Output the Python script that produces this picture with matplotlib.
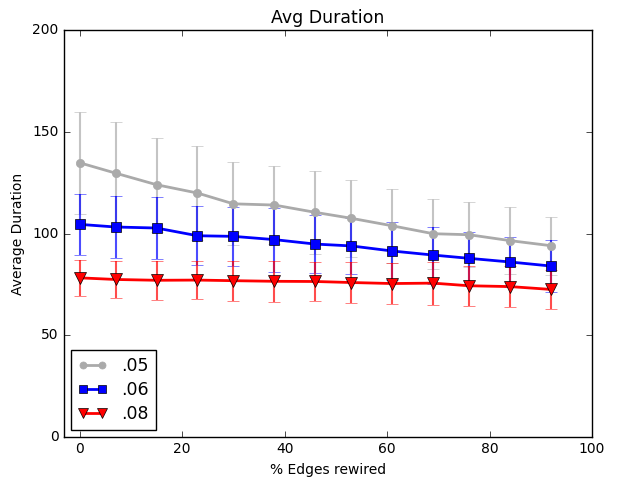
import matplotlib
matplotlib.use('Agg')
import matplotlib.pyplot as plt

plt.style.use('classic')
plt.rcParams['font.size'] = 10

x = [0, 7, 15, 23, 30, 38, 46, 53, 61, 69, 76, 84, 92]

y05 = [134.8, 129.7, 124.0, 119.9, 114.6, 114.0, 110.4, 107.5, 103.8, 99.9, 99.4, 96.5, 94.0]
e05 = [25.1, 25.3, 23.1, 23.2, 20.4, 19.0, 20.5, 19.0, 18.2, 17.2, 15.9, 16.5, 14.3]

y06 = [104.5, 103.2, 102.7, 98.9, 98.6, 97.0, 94.8, 93.9, 91.4, 89.4, 87.8, 86.0, 84.0]
e06 = [15.1, 15.4, 15.1, 14.6, 14.6, 15.7, 14.1, 13.9, 14.1, 14.0, 12.9, 12.4, 12.7]

y08 = [78.2, 77.4, 77.0, 77.1, 76.8, 76.5, 76.4, 75.9, 75.4, 75.6, 74.3, 73.9, 72.5]
e08 = [8.9, 8.9, 9.5, 9.5, 9.8, 10.2, 9.4, 9.9, 10.0, 10.6, 9.9, 9.9, 9.6]

fig = plt.figure(figsize=(6.18, 4.79), dpi=100)
ax = fig.add_subplot(111)
fig.subplots_adjust(left=0.104, right=0.958, top=0.937, bottom=0.088)

ax.errorbar(x, y05, yerr=e05, fmt='none', ecolor='#c4c4c4', capsize=4, elinewidth=1.5)
ax.errorbar(x, y06, yerr=e06, fmt='none', ecolor='blue', alpha=0.7, capsize=4, elinewidth=1.5)
ax.errorbar(x, y08, yerr=e08, fmt='none', ecolor='red', alpha=0.7, capsize=4, elinewidth=1.5)

ax.plot(x, y05, color='#aaaaaa', lw=2, marker='o', ms=6, mec='#aaaaaa', mfc='#aaaaaa', label='.05')
ax.plot(x, y06, color='blue', lw=2, marker='s', ms=6.5, mec='black', mfc='blue', label='.06')
ax.plot(x, y08, color='red', lw=2, marker='v', ms=8.5, mec='black', mfc='red', label='.08')

ax.set_xlim(-3, 100)
ax.set_ylim(0, 200)
ax.tick_params(labelsize=10)
ax.set_title('Avg Duration', fontsize=12.5)
ax.set_xlabel('% Edges rewired', fontsize=10)
ax.set_ylabel('Average Duration', fontsize=10)
ax.legend(loc='lower left', numpoints=2, fontsize=12.5, borderaxespad=0.4,
          markerscale=0.85, labelspacing=0.35, handlelength=1.7)

fig.savefig('out.png', dpi=100, facecolor='white')
